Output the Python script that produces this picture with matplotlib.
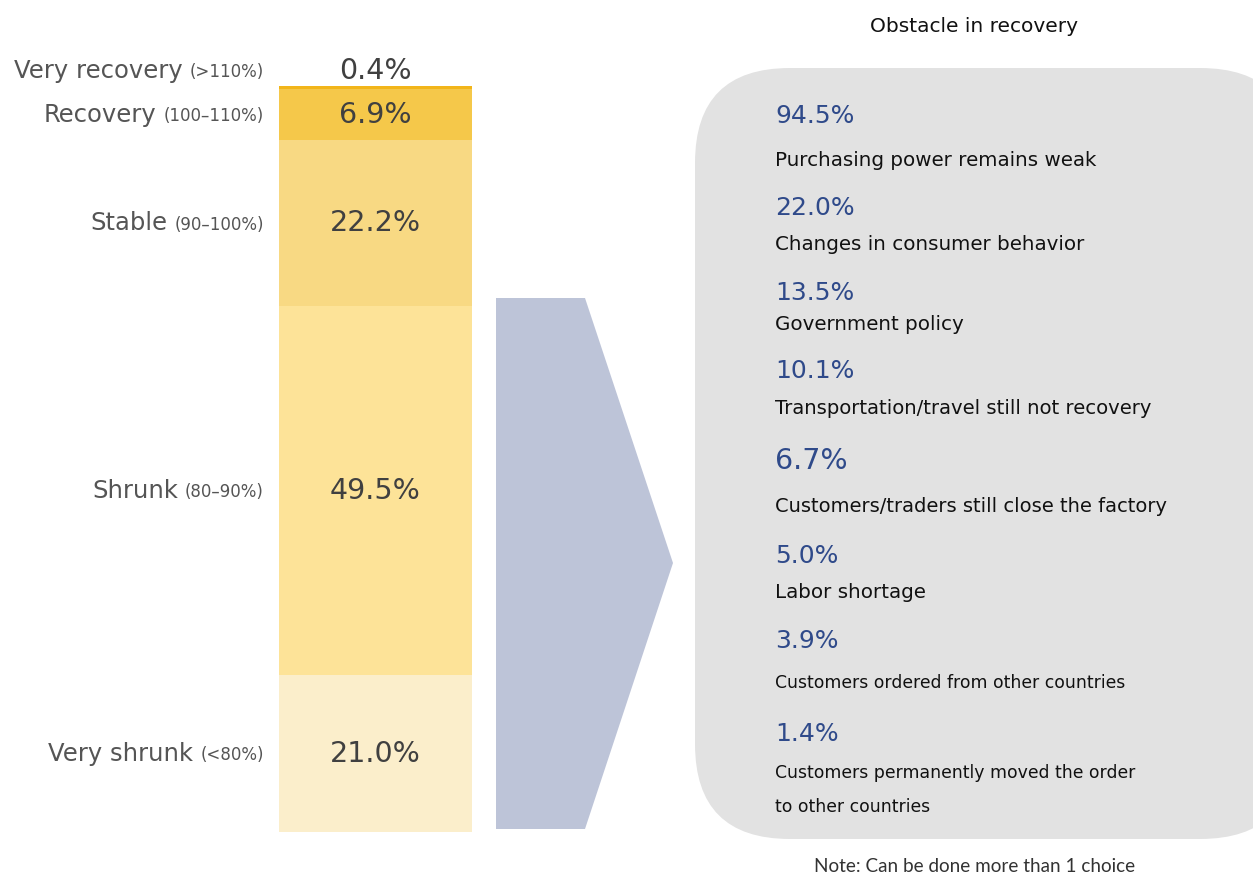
import matplotlib
matplotlib.use("Agg")
import matplotlib.pyplot as plt
from matplotlib.patches import Polygon, FancyBboxPatch

# Recovery level of business (share of respondents, %), bottom to top
levels = ["Very shrunk", "Shrunk", "Stable", "Recovery", "Very recovery"]
ranges = ["(<80%)", "(80\u201390%)", "(90\u2013100%)", "(100\u2013110%)", "(>110%)"]
shares = [21.0, 49.5, 22.2, 6.9, 0.4]
seg_colors = ["#FBEECB", "#FDE398", "#F8D983", "#F5C84A", "#F2B51A"]

# Obstacles in recovery (multiple answers, %)
obstacles = [
    "Purchasing power remains weak",
    "Changes in consumer behavior",
    "Government policy",
    "Transportation/travel still not recovery",
    "Customers/traders still close the factory",
    "Labor shortage",
    "Customers ordered from other countries",
    "Customers permanently moved the order\nto other countries",
]
obstacle_pct = [94.5, 22.0, 13.5, 10.1, 6.7, 5.0, 3.9, 1.4]

title = "Obstacle in recovery"
note = "Note: Can be done more than 1 choice"

FONT = ["DejaVu Sans"]
plt.rcParams["font.family"] = FONT

W, H = 1253, 875
fig = plt.figure(figsize=(W / 100, H / 100), dpi=100)

# Background canvas in pixel units for the decorative shapes
bg = fig.add_axes([0, 0, 1, 1])
bg.set_xlim(0, W)
bg.set_ylim(H, 0)
bg.axis("off")

panel = FancyBboxPatch((695 + 95, 68 + 95), 600 - 190, 771 - 190,
                       boxstyle="round,pad=95", fc="#E2E2E2", ec="none")
bg.add_patch(panel)
arrow = Polygon([(496, 298), (585, 298), (673, 563), (585, 829), (496, 829)],
                closed=True, fc="#BDC4D8", ec="none")
bg.add_patch(arrow)

bg.text(974, 26, title, ha="center", va="center", fontsize=14.5,
        color="#111111")
bg.text(975, 866, note, ha="center", va="center", fontsize=13.6,
        color="#333333", family=["Lato", "DejaVu Sans"])

# Obstacle list inside the panel
pct_y = [116, 208, 293, 371, 461, 556, 641, 734]
pct_size = [18, 18, 18, 18, 20.5, 18, 18, 18]
desc_y = [160, 245, 324, 409, 507, 592, 683, 790]
desc_size = [14.3, 14.3, 14.3, 14.1, 14, 14.3, 12.4, 12.4]
for p, d, py, dy, ps, ds in zip(obstacle_pct, obstacles, pct_y, desc_y,
                                pct_size, desc_size):
    bg.text(775, py, f"{p:.1f}%", ha="left", va="center", fontsize=ps,
            color="#2F4A8A")
    bg.text(775, dy, d, ha="left", va="center",
            fontsize=ds, color="#111111", linespacing=2.2)

# Stacked bar of recovery levels
bx0, bx1, by0, by1 = 279, 472, 86, 832
bar_ax = fig.add_axes([bx0 / W, 1 - by1 / H, (bx1 - bx0) / W, (by1 - by0) / H])
bar_ax.set_xlim(-0.5, 0.5)
bar_ax.set_ylim(0, 100)
bar_ax.axis("off")

bottom = 0.0
centers = []
for s, c in zip(shares, seg_colors):
    bar_ax.bar(0, s, width=1.0, bottom=bottom, color=c, edgecolor="none")
    centers.append(bottom + s / 2)
    bottom += s

renderer = fig.canvas.get_renderer()
last = len(shares) - 1
for i, (lvl, rng, s, yc) in enumerate(zip(levels, ranges, shares, centers)):
    if i == last:
        # thin top segment: value sits above the bar
        ytop, dy_pts = 100, 11
        bar_ax.annotate(f"{s:.1f}%", (0, ytop), xytext=(0, dy_pts),
                        textcoords="offset points", ha="center", va="center",
                        fontsize=20.5, color="#404040")
    else:
        ytop, dy_pts = yc, 0
        bar_ax.text(0, yc, f"{s:.1f}%", ha="center", va="center",
                    fontsize=20.5, color="#404040")
    t_small = bar_ax.annotate(rng, (-0.5, ytop), xytext=(-11, dy_pts - 1),
                              textcoords="offset points", ha="right", va="center",
                              fontsize=12, color="#555555")
    ext = t_small.get_window_extent(renderer)
    w_pts = ext.width * 72 / fig.dpi
    bar_ax.annotate(lvl, (-0.5, ytop), xytext=(-11 - w_pts - 5, dy_pts),
                    textcoords="offset points", ha="right", va="center",
                    fontsize=17.5, color="#555555")

fig.savefig("out.png", dpi=100)
